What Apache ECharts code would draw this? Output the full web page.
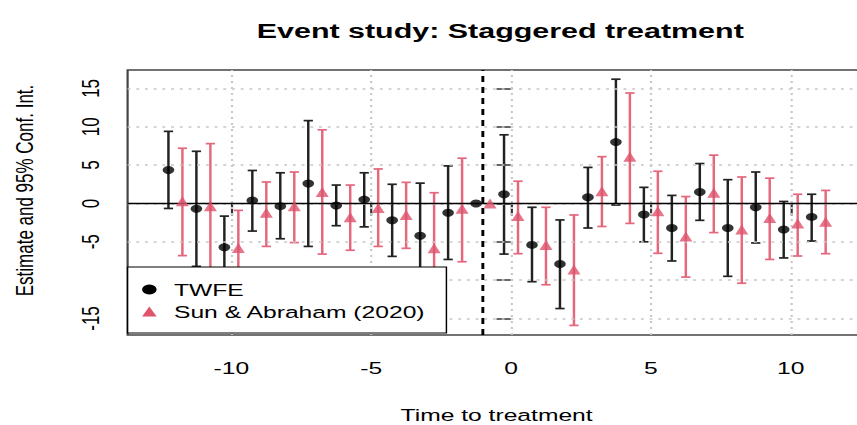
<!DOCTYPE html>
<html>
<head>
<meta charset="utf-8">
<script src="https://cdn.jsdelivr.net/npm/echarts@6/dist/echarts.min.js"></script>
<style>
  html, body { margin: 0; padding: 0; background: #fff; overflow: hidden; }
  /* the reference plot is stretched sideways, so draw narrow and stretch */
  #main { width: 591px; height: 425px; transform: scaleX(1.45); transform-origin: 0 0; }
</style>
</head>
<body>
<div id="main"></div>
<script>
var periods = [-12, -11, -10, -9, -8, -7, -6, -5, -4, -3, -2, -1, 0, 1, 2, 3, 4, 5, 6, 7, 8, 9, 10, 11];

var twfeEst = [4.36, -0.7, -5.7, 0.4, -0.35, 2.6, -0.26, 0.5, -2.2, -4.2, -1.2, 0, 1.2, -5.4, -7.9, 0.8, 8.0, -1.45, -3.2, 1.5, -3.2, -0.5, -3.4, -1.75];
var twfeLo = [-0.65, -8.2, -9.75, -3.6, -4.6, -5.6, -2.9, -3.05, -6.9, -11.05, -7.3, null, -6.6, -10.2, -13.7, -3.2, -0.2, -5.0, -7.5, -2.2, -9.5, -5.15, -7.1, -4.9];
var twfeHi = [9.4, 6.8, -1.65, 4.3, 4.0, 10.8, 2.4, 4.0, 2.5, 2.65, 4.9, null, 8.95, -0.5, -2.15, 4.7, 16.2, 2.1, 1.05, 5.2, 3.1, 4.1, 0.26, 1.2];

var saEst = [0.3, -0.35, -5.8, -1.2, -0.35, 1.5, -1.8, -0.6, -1.5, -5.85, -0.7, 0, -1.65, -5.4, -8.6, 1.6, 6.1, -1.0, -4.3, 1.4, -3.4, -1.9, -2.6, -2.4];
var saLo = [-6.8, -8.5, -10.7, -5.6, -5.1, -6.6, -6.1, -5.6, -5.85, -13.1, -7.6, null, -6.55, -10.6, -15.9, -3.0, -2.6, -6.5, -9.6, -3.8, -10.4, -7.3, -6.85, -6.55];
var saHi = [7.2, 7.8, -0.9, 2.8, 4.1, 9.6, 2.4, 4.5, 2.75, 1.4, 5.9, null, 2.9, -0.5, -1.5, 6.1, 14.4, 4.2, 0.9, 6.3, 3.45, 3.3, 1.2, 1.7];

var xTicks = [-10, -5, 0, 5, 10];
var yTicks = [-15, -10, -5, 0, 5, 10, 15];
var yLabels = [-15, -5, 0, 5, 10, 15];
var treatLine = -1;

var red = '#DF536B';
var dodge = 0.25;

function points(est, shift) {
  return periods.map(function (p, i) { return [p + shift, est[i]]; });
}
function bars(lo, hi, shift) {
  var out = [];
  periods.forEach(function (p, i) {
    if (lo[i] !== null) out.push([p + shift, lo[i], hi[i]]);
  });
  return out;
}

function errorBar(color) {
  return function (params, api) {
    var x = api.value(0);
    var top = api.coord([x, api.value(2)]);
    var bot = api.coord([x, api.value(1)]);
    var w = 3.2;
    var st = { stroke: color, lineWidth: 1.7 };
    return {
      type: 'group',
      children: [
        { type: 'line', shape: { x1: top[0], y1: top[1], x2: bot[0], y2: bot[1] }, style: st },
        { type: 'line', shape: { x1: top[0] - w, y1: top[1], x2: top[0] + w, y2: top[1] }, style: st },
        { type: 'line', shape: { x1: bot[0] - w, y1: bot[1], x2: bot[0] + w, y2: bot[1] }, style: st }
      ]
    };
  };
}

var font = 'Liberation Sans, Arial, Helvetica, sans-serif';
var gridLine = { color: '#c8c8c8', type: [2, 4], width: 1.5 };

var myChart = echarts.init(document.getElementById('main'), null, { renderer: 'svg' });
option = {
    animation: false,
    title: {
        text: 'Event study: Staggered treatment',
        left: 340,
        top: 15,
        textAlign: 'center',
        textStyle: { fontFamily: font, fontSize: 21, fontWeight: 'bold', color: '#000' }
    },
    grid: {
        left: 88,
        width: 509,
        top: 70,
        bottom: 90,
        outerBoundsMode: 'none',
        containLabel: false,
        show: true,
        borderColor: '#444',
        borderWidth: 1.5,
        backgroundColor: '#fff'
    },
    legend: {
        orient: 'vertical',
        left: 88,
        top: 267,
        padding: [14, 14, 13, 10],
        itemGap: 5,
        itemWidth: 10,
        itemHeight: 10,
        backgroundColor: '#fff',
        borderColor: '#000',
        borderWidth: 1,
        textStyle: { fontFamily: font, fontSize: 17, lineHeight: 17, color: '#000', padding: [0, 0, 0, 7] },
        data: [
            { name: 'TWFE', icon: 'circle', itemStyle: { color: '#000' } },
            { name: 'Sun & Abraham (2020)', icon: 'triangle', itemStyle: { color: red } }
        ],
        z: 10
    },
    xAxis: {
        type: 'value',
        min: -13.71,
        max: 12.68,
        name: 'Time to treatment',
        nameLocation: 'middle',
        nameGap: 71,
        nameTextStyle: { fontFamily: font, fontSize: 17, color: '#000' },
        axisLine: { show: false },
        axisTick: { show: true, customValues: xTicks, length: 12, lineStyle: { color: '#333', width: 1.5 } },
        axisLabel: { customValues: xTicks, margin: 24, fontFamily: font, fontSize: 17, color: '#000' },
        splitLine: { show: false }
    },
    yAxis: {
        type: 'value',
        min: -17.15,
        max: 17.4,
        name: 'Estimate and 95% Conf. Int.',
        nameLocation: 'middle',
        nameGap: 63,
        nameTextStyle: { fontFamily: font, fontSize: 17, color: '#000', padding: [0, 0, 0, 24] },
        axisLine: { show: false },
        axisTick: { show: true, customValues: yTicks, length: 10, lineStyle: { color: '#333', width: 1.5 } },
        axisLabel: { customValues: yLabels, rotate: 90, margin: 17, fontFamily: font, fontSize: 17, color: '#000' },
        splitLine: { show: false }
    },
    series: [
        {
            name: 'grid',
            type: 'scatter',
            data: [],
            silent: true,
            markLine: {
                silent: true,
                symbol: 'none',
                label: { show: false },
                lineStyle: gridLine,
                data: xTicks.map(function (v) { return { xAxis: v }; })
                    .concat(yTicks.map(function (v) { return { yAxis: v }; }))
                    .concat([
                        { yAxis: 0, lineStyle: { color: '#000', type: 'solid', width: 1.3 } },
                        { xAxis: treatLine, lineStyle: { color: '#000', type: [6, 5], width: 2 } }
                    ])
            }
        },
        {
            name: 'TWFE',
            type: 'custom',
            renderItem: errorBar('#222'),
            itemStyle: { color: '#000' },
            data: bars(twfeLo, twfeHi, -dodge),
            encode: { x: 0, y: [1, 2] },
            z: 3
        },
        {
            name: 'Sun & Abraham (2020)',
            type: 'custom',
            renderItem: errorBar('#E4677C'),
            itemStyle: { color: red },
            data: bars(saLo, saHi, dodge),
            encode: { x: 0, y: [1, 2] },
            z: 3
        },
        {
            name: 'TWFE',
            type: 'scatter',
            symbol: 'circle',
            symbolSize: 8,
            itemStyle: { color: '#000' },
            data: points(twfeEst, -dodge),
            z: 5
        },
        {
            name: 'Sun & Abraham (2020)',
            type: 'scatter',
            symbol: 'triangle',
            symbolSize: [9, 10],
            itemStyle: { color: red },
            data: points(saEst, dodge),
            z: 5
        }
    ]
};

myChart.setOption(option);
</script>
</body>
</html>
